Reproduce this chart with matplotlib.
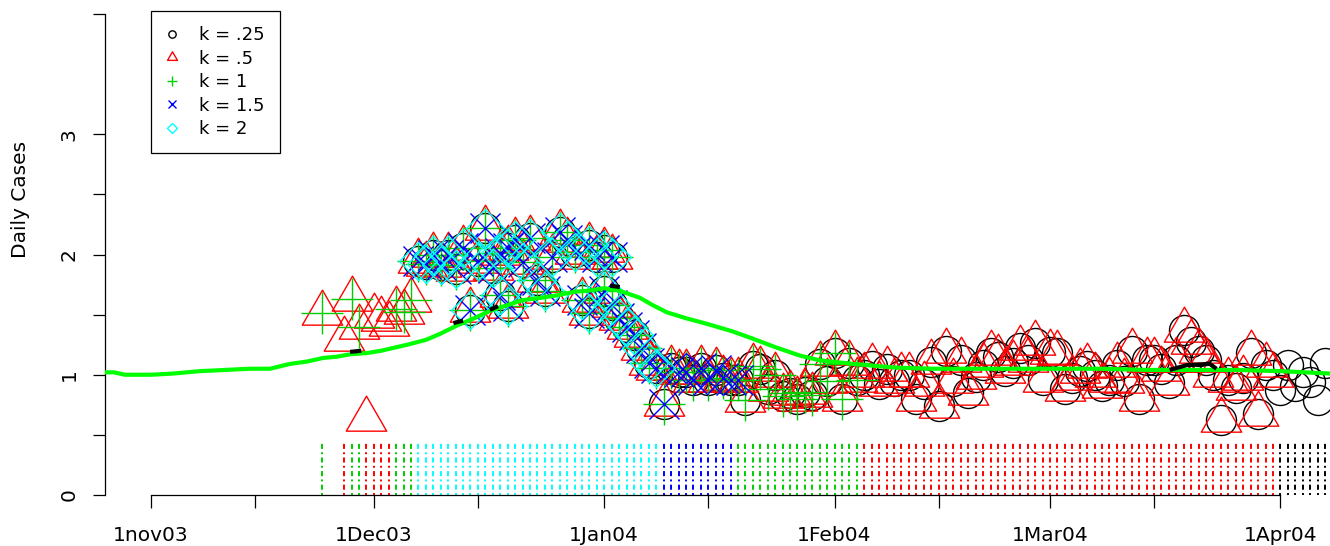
import numpy as np
import matplotlib
matplotlib.use('Agg')
import matplotlib.pyplot as plt
from matplotlib.path import Path
from matplotlib.lines import Line2D

plt.rcParams['font.family'] = ['DejaVu Sans']

# ---------------- data (x = days since 1 Nov 2003) ----------------
tick_days = [0, 14, 30, 44, 61, 75, 92, 106, 121, 135, 152]
tick_labels = ['1nov03', '', '1Dec03', '', '1Jan04', '', '1Feb04', '', '1Mar04', '', '1Apr04']
ytick_vals = [0, 0.5, 1, 1.5, 2, 2.5, 3, 4]
ytick_labels = ['0', '', '1', '', '2', '', '3', '']

k_labels = ['k = .25', 'k = .5', 'k = 1', 'k = 1.5', 'k = 2']
k_colors = ['black', 'red', '#00CD00', 'blue', 'cyan']
k_first = [36, 23, 23, 36, 36]
k_last = [158, 151, 95, 79, 68]
k1_missing_days = [26, 29, 30, 31, 32]

# daily estimates
days_early = [23, 26, 27, 28, 29, 30, 31, 32, 33, 34, 35]
vals_early = [1.51, 1.30, 1.63, 1.40, 0.63, 1.49, 1.46, 1.42, 1.55, 1.52, 1.62]

days_dec = list(range(36, 69))
vals_dec = [1.95, 1.92, 2.00, 1.91, 2.00, 1.88, 2.05, 1.54, 1.95, 2.22,
            1.89, 1.66, 2.05, 2.12, 1.94, 2.14, 1.79, 1.70, 1.98, 2.19,
            2.12, 2.02, 1.62, 2.08, 1.98, 1.70, 1.58, 1.47, 1.40, 1.33,
            1.22, 1.10, 1.06]

days_extra = [47, 48, 59, 61, 62]
vals_extra = [2.01, 1.57, 1.51, 2.04, 1.98]

days_jan = list(range(69, 96))
vals_jan = [0.76, 1.06, 1.02, 1.02, 0.96, 1.06, 0.96, 1.04, 0.97, 0.96,
            0.96, 0.79, 1.07, 1.05, 0.88, 1.00, 0.82, 0.85, 0.80, 0.86,
            0.83, 1.09, 0.95, 1.18, 0.80, 1.10, 0.96]

days_late = list(range(96, 159))
vals_late = [1.00, 1.07, 0.92, 1.05, 0.95, 1.00, 1.00, 0.80, 0.92, 1.11,
             0.74, 1.20, 0.95, 1.12, 0.85, 0.98, 1.08, 1.18, 1.15, 1.03,
             1.10, 1.22, 1.12, 1.26, 0.96, 1.19, 1.18, 0.88, 0.97, 1.03,
             1.07, 1.00, 0.91, 0.96, 1.08, 0.95, 1.20, 0.80, 1.12, 1.12,
             1.05, 0.93, 1.12, 1.37, 1.27, 1.20, 1.12, 1.00, 0.62, 0.96,
             0.89, 0.97, 1.18, 0.67, 1.08, 1.00, 0.87, 1.08, 0.91, 1.02,
             0.94, 0.79, 1.10]

# selected k per day (rug at the bottom)
rug_days = {
    'k = .25': list(range(152, 159)),
    'k = .5': [26, 29, 30, 31, 32] + list(range(96, 152)),
    'k = 1': [23, 27, 28, 33, 34, 35] + list(range(79, 96)),
    'k = 1.5': list(range(69, 79)),
    'k = 2': list(range(36, 69)),
}
rug_top = 0.44

# smooth fitted curve (green) and alternative fit (black, visible pieces)
fit_days = [-6.2, -5, -3.5, 0, 3, 6.6, 10, 13.3, 16, 18.7, 21, 23.2, 25, 26.8,
            29, 31, 34.5, 37, 38.9, 41.2, 43.5, 45.6, 48, 50, 52.5, 54.6, 57,
            59, 61, 63, 65.8, 67.5, 69.4, 72, 75, 78.3, 81, 84, 87.3, 90, 94.5,
            100, 105.2, 110, 114.3, 120, 127.7, 134, 141.2, 146, 152, 158.7]
fit_vals = [1.02, 1.02, 1.00, 1.00, 1.01, 1.03, 1.04, 1.05, 1.05, 1.09, 1.11,
            1.14, 1.15, 1.17, 1.18, 1.20, 1.25, 1.29, 1.34, 1.41, 1.47, 1.53,
            1.58, 1.62, 1.64, 1.66, 1.69, 1.70, 1.72, 1.70, 1.64, 1.58, 1.52,
            1.47, 1.42, 1.36, 1.30, 1.23, 1.16, 1.12, 1.09, 1.06, 1.05, 1.05,
            1.05, 1.05, 1.05, 1.04, 1.04, 1.04, 1.03, 1.01]
alt_days = [26.8, 28.3, np.nan, 40.7, 42.0, np.nan, 45.6, 46.7, np.nan,
            61.8, 63.1, np.nan, 137.1, 139.4, 142.5, 143.4]
alt_vals = [1.19, 1.20, np.nan, 1.43, 1.45, np.nan, 1.54, 1.57, np.nan,
            1.74, 1.73, np.nan, 1.04, 1.08, 1.09, 1.05]

# ---------------- figure ----------------
W, H = 1330, 546
fig = plt.figure(figsize=(W / 100, H / 100), dpi=100)
ax = fig.add_axes([105 / W, 51 / H, (W - 105) / W, 481 / H])

tri = Path([(0, 1.555), (1.347, -0.778), (-1.347, -0.778), (0, 1.555)],
           [Path.MOVETO, Path.LINETO, Path.LINETO, Path.CLOSEPOLY])
D = 21.6
k_markers = ['o', tri, '+', 'x', 'D']
k_sizes = [D, 1.555 * D, 1.414 * D, D, 0.9 * D]
leg_sizes = [5.3, 1.555 * 5.3, 1.414 * 5.3, 5.3, 0.9 * 5.3]

all_days = np.array(days_early + days_dec + days_extra + days_jan + days_late, dtype=float)
all_vals = np.array(vals_early + vals_dec + vals_extra + vals_jan + vals_late, dtype=float)
order = np.argsort(all_days, kind='stable')
all_days, all_vals = all_days[order], all_vals[order]

for i, lab in enumerate(k_labels):
    m = (all_days >= k_first[i]) & (all_days <= k_last[i])
    if lab == 'k = 1':
        m &= ~np.isin(all_days, k1_missing_days)
    ax.plot(all_days[m], all_vals[m], linestyle='none', marker=k_markers[i],
            mfc='none', mec=k_colors[i], ms=k_sizes[i], mew=1.0)

# fitted curves
ax.plot(fit_days, fit_vals, color='#00FF00', lw=3.0, solid_capstyle='butt', zorder=4)
ax.plot(alt_days, alt_vals, color='black', lw=3.0, solid_capstyle='butt', zorder=4)

# rug of chosen k
for i, lab in enumerate(k_labels):
    ax.vlines(rug_days[lab], 0, rug_top, colors=k_colors[i],
              linestyles=[(0, (1, 1.7, 2.6, 1.7))], lw=1.4)

# axes styling
ax.set_xlim((105 - 151) / 7.43, (W - 151) / 7.43)
ax.set_ylim(0, 4)
for s in ('top', 'right'):
    ax.spines[s].set_visible(False)
ax.spines['left'].set_bounds(0, 4)
ax.spines['bottom'].set_bounds(tick_days[0], tick_days[-1])
ax.spines['left'].set_linewidth(0.9)
ax.spines['bottom'].set_linewidth(0.9)
ax.set_xticks(tick_days)
ax.set_xticklabels(tick_labels, fontsize=14.5)
ax.set_yticks(ytick_vals)
ax.set_yticklabels(ytick_labels, fontsize=14.5, rotation=90, va='center')
ax.tick_params(axis='x', length=9, width=0.9, pad=13)
ax.tick_params(axis='y', length=9, width=0.9, pad=10)
ax.set_ylabel('Daily Cases', fontsize=14.5)
ax.yaxis.set_label_coords((30 - 105) / (W - 105), (495 - 199) / 481)

handles = [Line2D([], [], linestyle='none', marker=k_markers[i], mfc='none',
                  mec=k_colors[i], ms=leg_sizes[i], mew=1.0) for i in range(5)]
leg = ax.legend(handles, k_labels, loc='upper left',
                bbox_to_anchor=(151 / W, 1 - 11 / H), bbox_transform=fig.transFigure,
                fontsize=13, frameon=True, fancybox=False, edgecolor='black',
                framealpha=1, borderaxespad=0, borderpad=0.85, handlelength=0.6,
                handletextpad=1.2, labelspacing=0.3, numpoints=1)
leg.get_frame().set_linewidth(0.9)

fig.savefig('out.png', dpi=100)
